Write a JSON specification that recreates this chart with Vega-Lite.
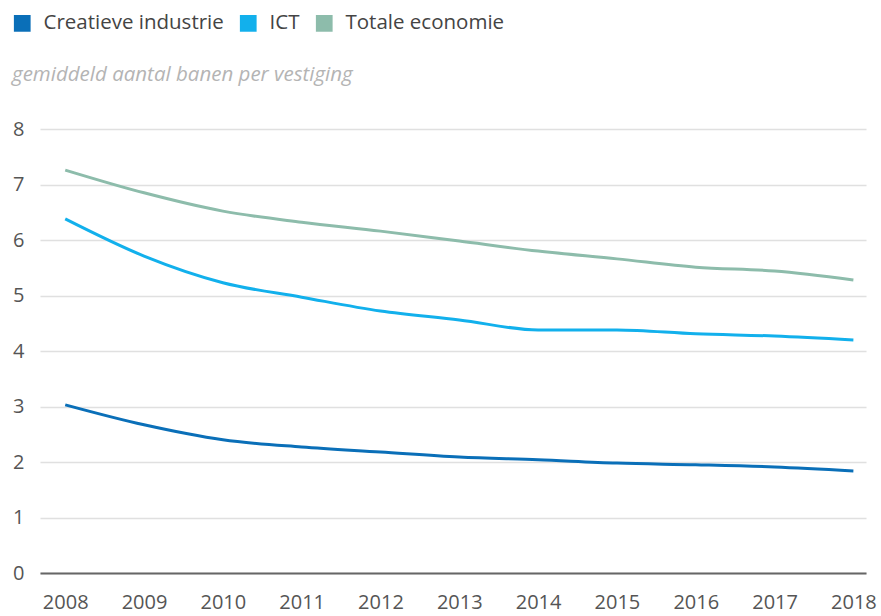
{
  "$schema": "https://vega.github.io/schema/vega-lite/v6.json",
  "width": 826,
  "height": 444,
  "autosize": "none",
  "padding": {"left": 40, "top": 129, "right": 15, "bottom": 43},
  "background": "white",
  "config": {
    "font": "Open Sans",
    "view": {"stroke": null}
  },
  "title": {
    "text": "gemiddeld aantal banen per vestiging",
    "anchor": "start",
    "frame": "group",
    "dx": -28,
    "dy": 76,
    "offset": 4,
    "fontSize": 20.5,
    "fontStyle": "italic",
    "fontWeight": "normal",
    "color": "#b4b4b4",
    "font": "Open Sans"
  },
  "data": {
    "values": [
      {"jaar": 2008, "reeks": "Creatieve industrie", "waarde": 3.03},
      {"jaar": 2009, "reeks": "Creatieve industrie", "waarde": 2.67},
      {"jaar": 2010, "reeks": "Creatieve industrie", "waarde": 2.40},
      {"jaar": 2011, "reeks": "Creatieve industrie", "waarde": 2.27},
      {"jaar": 2012, "reeks": "Creatieve industrie", "waarde": 2.18},
      {"jaar": 2013, "reeks": "Creatieve industrie", "waarde": 2.09},
      {"jaar": 2014, "reeks": "Creatieve industrie", "waarde": 2.04},
      {"jaar": 2015, "reeks": "Creatieve industrie", "waarde": 1.98},
      {"jaar": 2016, "reeks": "Creatieve industrie", "waarde": 1.95},
      {"jaar": 2017, "reeks": "Creatieve industrie", "waarde": 1.91},
      {"jaar": 2018, "reeks": "Creatieve industrie", "waarde": 1.84},
      {"jaar": 2008, "reeks": "ICT", "waarde": 6.38},
      {"jaar": 2009, "reeks": "ICT", "waarde": 5.71},
      {"jaar": 2010, "reeks": "ICT", "waarde": 5.23},
      {"jaar": 2011, "reeks": "ICT", "waarde": 4.97},
      {"jaar": 2012, "reeks": "ICT", "waarde": 4.72},
      {"jaar": 2013, "reeks": "ICT", "waarde": 4.56},
      {"jaar": 2014, "reeks": "ICT", "waarde": 4.38},
      {"jaar": 2015, "reeks": "ICT", "waarde": 4.38},
      {"jaar": 2016, "reeks": "ICT", "waarde": 4.31},
      {"jaar": 2017, "reeks": "ICT", "waarde": 4.27},
      {"jaar": 2018, "reeks": "ICT", "waarde": 4.20},
      {"jaar": 2008, "reeks": "Totale economie", "waarde": 7.26},
      {"jaar": 2009, "reeks": "Totale economie", "waarde": 6.85},
      {"jaar": 2010, "reeks": "Totale economie", "waarde": 6.52},
      {"jaar": 2011, "reeks": "Totale economie", "waarde": 6.32},
      {"jaar": 2012, "reeks": "Totale economie", "waarde": 6.16},
      {"jaar": 2013, "reeks": "Totale economie", "waarde": 5.98},
      {"jaar": 2014, "reeks": "Totale economie", "waarde": 5.80},
      {"jaar": 2015, "reeks": "Totale economie", "waarde": 5.66},
      {"jaar": 2016, "reeks": "Totale economie", "waarde": 5.51},
      {"jaar": 2017, "reeks": "Totale economie", "waarde": 5.44},
      {"jaar": 2018, "reeks": "Totale economie", "waarde": 5.28}
    ]
  },
  "mark": {"type": "line", "strokeWidth": 3, "interpolate": "monotone"},
  "encoding": {
    "x": {
      "field": "jaar",
      "type": "quantitative",
      "scale": {"domain": [2007.68, 2018.16], "nice": false, "zero": false},
      "axis": {
        "values": [2008, 2009, 2010, 2011, 2012, 2013, 2014, 2015, 2016, 2017, 2018],
        "format": "d",
        "title": null,
        "grid": false,
        "ticks": false,
        "domain": true,
        "domainColor": "#666666",
        "domainWidth": 2,
        "labelFontSize": 20,
        "labelColor": "#555555",
        "labelPadding": 19,
        "labelFlush": false
      }
    },
    "y": {
      "field": "waarde",
      "type": "quantitative",
      "scale": {"domain": [0, 8], "nice": false},
      "axis": {
        "values": [0, 1, 2, 3, 4, 5, 6, 7, 8],
        "title": null,
        "grid": true,
        "gridColor": "#e0e0e0",
        "gridWidth": 1.5,
        "ticks": false,
        "domain": false,
        "labelFontSize": 20,
        "labelColor": "#555555",
        "labelPadding": 16
      }
    },
    "color": {
      "field": "reeks",
      "type": "nominal",
      "scale": {
        "domain": ["Creatieve industrie", "ICT", "Totale economie"],
        "range": ["#0a6fb8", "#12b0ec", "#8dbcab"]
      },
      "legend": {
        "title": null,
        "orient": "none",
        "direction": "horizontal",
        "legendX": -28,
        "legendY": -116,
        "symbolType": "square",
        "symbolSize": 280,
        "symbolStrokeWidth": 0,
        "symbolOpacity": 1,
        "labelFontSize": 20.5,
        "labelLimit": 400,
        "labelColor": "#444444",
        "columnPadding": 14,
        "labelOffset": 11,
        "encode": {
          "symbols": {
            "update": {
              "fill": {"scale": "color", "field": "value"},
              "cornerRadius": {"value": 3}
            }
          }
        }
      }
    }
  }
}
